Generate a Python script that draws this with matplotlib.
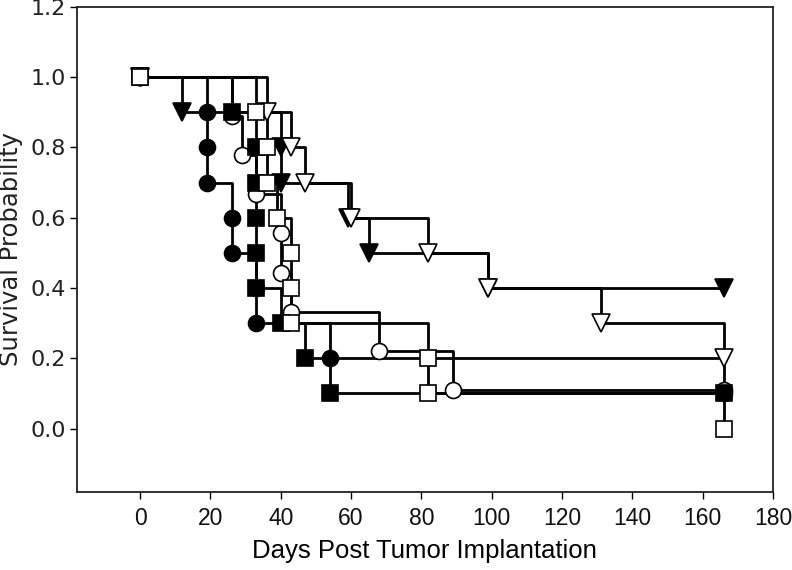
import numpy as np
import matplotlib.pyplot as plt

# Kaplan-Meier points: (day, survival) after each step
days_fc = [19, 19, 19, 26, 26, 33, 33, 54, 166]          # filled circle
surv_fc = [0.9, 0.8, 0.7, 0.6, 0.5, 0.4, 0.3, 0.2, 0.1]

days_oc = [26, 29, 33, 40, 40, 43, 68, 89, 166]          # open circle
surv_oc = [0.889, 0.778, 0.667, 0.556, 0.444, 0.333, 0.222, 0.111, 0.111]

days_ft = [12, 40, 40, 59, 65, 99, 166]                  # filled triangle
surv_ft = [0.9, 0.8, 0.7, 0.6, 0.5, 0.4, 0.4]

days_fs = [26, 33, 33, 33, 33, 33, 40, 47, 54, 166]      # filled square
surv_fs = [0.9, 0.8, 0.7, 0.6, 0.5, 0.4, 0.3, 0.2, 0.1, 0.1]

days_ot = [36, 43, 47, 60, 82, 99, 131, 166]             # open triangle
surv_ot = [0.9, 0.8, 0.7, 0.6, 0.5, 0.4, 0.3, 0.2]

days_os = [33, 36, 36, 39, 43, 43, 43, 82, 82, 166]      # open square
surv_os = [0.9, 0.8, 0.7, 0.6, 0.5, 0.4, 0.3, 0.2, 0.1, 0.0]

groups = [
    (days_fc, surv_fc, 'o', 'black'),
    (days_oc, surv_oc, 'o', 'white'),
    (days_ft, surv_ft, 'v', 'black'),
    (days_fs, surv_fs, 's', 'black'),
    (days_ot, surv_ot, 'v', 'white'),
    (days_os, surv_os, 's', 'white'),
]

fig = plt.figure(figsize=(7.92, 5.70), dpi=100)
ax = fig.add_axes([0.097, 0.137, 0.879, 0.851])

# step lines first, markers on top
for d, s, m, fc in groups:
    x = [0] + d
    y = [1.0] + s
    ax.plot(x, y, drawstyle='steps-post', color='black', lw=2.0, zorder=2)

for i, (d, s, m, fc) in enumerate(groups):
    x = [0] + d
    y = [1.0] + s
    ms = 13.5 if m == 'v' else 11.5
    ax.plot(x, y, ls='none', marker=m, ms=ms, mfc=fc, mec='black',
            mew=1.2, zorder=3 + i)

ax.set_xlim(-18, 180)
ax.set_ylim(-0.18, 1.2)
ax.set_xticks(np.arange(0, 181, 20))
ax.set_yticks(np.arange(0, 1.21, 0.2))
ax.set_yticklabels(['%.1f' % v for v in np.arange(0, 1.21, 0.2)],
                   family='DejaVu Sans', fontsize=16, color='#222222')
ax.set_xticklabels([str(v) for v in range(0, 181, 20)],
                   family='Liberation Sans', fontsize=16.5, color='#111111')
ax.tick_params(direction='out', length=5, width=1.0, pad=3)
ax.tick_params(axis='x', pad=6)

for sp in ax.spines.values():
    sp.set_linewidth(1.3)
    sp.set_color('#222222')

ax.set_xlabel('Days Post Tumor Implantation', family='Liberation Sans',
              fontsize=18.5, labelpad=6)
ax.set_ylabel('Survival Probability', family='DejaVu Sans', fontsize=17.5,
              color='#222222', labelpad=5)

fig.savefig('out.png', dpi=100)
